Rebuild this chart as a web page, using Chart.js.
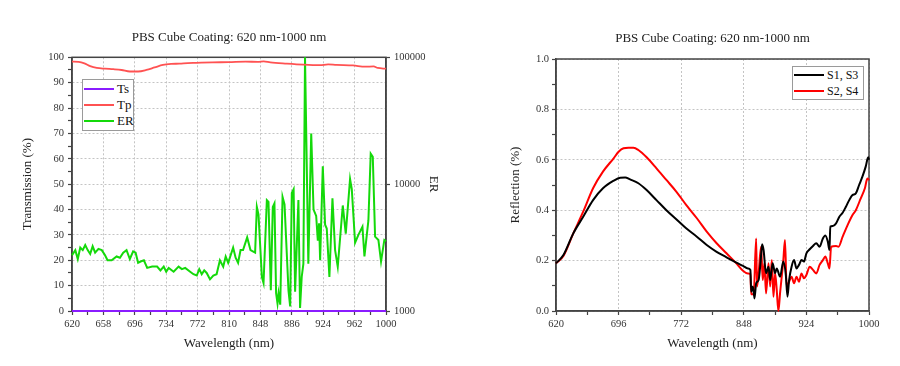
<!DOCTYPE html>
<html>
<head>
<meta charset="utf-8">
<script src="https://cdn.jsdelivr.net/npm/chart.js@4/dist/chart.umd.min.js"></script>
<style>
  html, body { margin:0; padding:0; background:#fff; }
  body { width:900px; height:366px; position:relative; overflow:hidden; font-family:"Liberation Serif","Times New Roman",serif; }
  .wrap { position:absolute; top:0; width:450px; height:366px; }
  .legend { position:absolute; background:#fff; border:1px solid #9a9a9a; box-sizing:border-box; color:#111; }
  .legend .row { position:absolute; left:0; height:16px; line-height:16px; white-space:nowrap; }
  .legend .sw { position:absolute; left:1px; top:7px; width:30px; height:2px; }
  .legend .lb { position:absolute; left:34px; top:0; color:#111; }
</style>
</head>
<body>
<div class="wrap" style="left:0"><canvas id="c1" width="450" height="366"></canvas></div>
<div class="wrap" style="left:450px"><canvas id="c2" width="450" height="366"></canvas></div>
<div id="lg1" class="legend" style="left:82px;top:79px;width:52px;height:52px;font-size:13px"></div>
<div id="lg2" class="legend" style="left:792px;top:66px;width:72px;height:34px;font-size:12px"></div>
<script>
// ---------------- DATA ----------------
const chartTitle = 'PBS Cube Coating: 620 nm-1000 nm';

// Left chart
const leftXTicks = [620, 658, 696, 734, 772, 810, 848, 886, 924, 962, 1000];
const leftYTicks = [0, 10, 20, 30, 40, 50, 60, 70, 80, 90, 100];
const erTicks = [1000, 10000, 100000];

const tsWl = [620, 700, 800, 900, 1000];
const tsVal = [0, 0, 0, 0, 0];

const tpWl = [620, 628, 635, 642, 650, 660, 670, 680, 690, 700, 710, 720, 730, 740, 750, 760, 770, 790, 810, 830, 845, 852, 860, 880, 900, 920, 930, 940, 960, 975, 985, 990, 1000];
const tpVal = [98.3, 98.2, 97.6, 96.5, 95.8, 95.5, 95.3, 95.0, 94.4, 94.4, 95.0, 96.0, 97.0, 97.4, 97.5, 97.7, 97.8, 98.0, 98.1, 98.3, 98.2, 98.4, 98.0, 97.5, 97.1, 96.9, 97.2, 97.0, 96.8, 96.3, 96.4, 95.8, 95.5];

const erWl = [620, 624, 627, 630, 633, 636, 639, 642, 645, 648, 652, 656, 660, 663, 668, 674, 678, 682, 686, 690, 694, 697, 700, 703, 707, 711, 717, 723, 727, 731, 734, 737, 743, 749, 753, 757, 763, 767, 771, 774, 777, 780, 783, 787, 791, 795, 799, 803, 806, 809, 815, 818, 821, 824, 827, 832, 836, 841.6, 843.7, 845.7, 849.8, 851.8, 855.8, 857.8, 860.6, 863, 865, 867, 868.7, 870, 872, 874.8, 877.2, 882, 884, 886, 888.2, 890, 894, 896, 898, 900, 902, 906, 909.5, 912.3, 915.5, 917.5, 919, 920.3, 923.5, 926.3, 928.3, 931.5, 935.2, 938.4, 941.6, 947.7, 951.3, 956.5, 958.6, 962.6, 966.6, 971.5, 973.9, 978.7, 981.5, 984, 986.8, 990.8, 994, 998, 1000];
const erVal = [2754, 3020, 2570, 3162, 3020, 3311, 3020, 2818, 3236, 2884, 3090, 3020, 2754, 2512, 2512, 2692, 2630, 2884, 3020, 2570, 2951, 2884, 2399, 2455, 2512, 2188, 2239, 2239, 2089, 2239, 2042, 2188, 2042, 2239, 2138, 2188, 2042, 1950, 1905, 2138, 1950, 2089, 1995, 1778, 1905, 1950, 2512, 2239, 2692, 2399, 3162, 2630, 2399, 3020, 3020, 3802, 3020, 2884, 6607, 5754, 1854, 1660, 7482, 7244, 1459, 6607, 7047, 1380, 1148, 1380, 1122, 7943, 6918, 1445, 1086, 8511, 9120, 1419, 7482, 1057, 1854, 2355, 100000, 2355, 25119, 6310, 5623, 3581, 4920, 2512, 13804, 4786, 4467, 1854, 7727, 3020, 2239, 6792, 4074, 10965, 9120, 3451, 3981, 4613, 2692, 5176, 17378, 16444, 3855, 3631, 2455, 3631, 3548];

// Right chart
const rightXTicks = [620, 696, 772, 848, 924, 1000];
const rightYTicks = [0.0, 0.2, 0.4, 0.6, 0.8, 1.0];

const s13Wl = [620, 629, 641, 653, 665, 677, 690, 698, 704, 710, 720, 730, 742, 754, 766, 778, 791, 803, 815, 827, 839, 847, 853, 856, 857, 859, 861, 863, 866, 868.5, 870.2, 872, 875, 878, 880, 883, 886, 888, 892, 896, 899, 901, 903, 906, 909, 912, 915, 918, 921, 924, 928, 932, 936, 940, 944, 947, 950, 952, 953, 956, 960, 964, 968, 972, 976, 980, 984, 988, 992, 996, 999, 1000];
const s13Val = [0.189, 0.222, 0.308, 0.374, 0.440, 0.487, 0.517, 0.529, 0.530, 0.522, 0.507, 0.480, 0.440, 0.400, 0.364, 0.328, 0.295, 0.262, 0.235, 0.213, 0.192, 0.179, 0.169, 0.163, 0.077, 0.097, 0.050, 0.110, 0.123, 0.200, 0.265, 0.242, 0.150, 0.176, 0.123, 0.189, 0.150, 0.169, 0.136, 0.196, 0.143, 0.057, 0.123, 0.176, 0.202, 0.169, 0.183, 0.202, 0.196, 0.229, 0.245, 0.258, 0.269, 0.255, 0.288, 0.300, 0.275, 0.242, 0.335, 0.337, 0.348, 0.374, 0.390, 0.414, 0.440, 0.460, 0.467, 0.500, 0.533, 0.573, 0.610, 0.600];

const s24Wl = [620, 629, 641, 653, 665, 677, 690, 696, 702, 708, 714, 720, 730, 742, 754, 766, 778, 791, 803, 815, 827, 839, 847, 853, 856, 857, 860, 863, 864, 866, 869, 871, 873, 875, 878, 880, 882, 884, 886, 888, 890, 892, 896, 898, 900, 903, 906, 909, 912, 915, 918, 921, 924, 928, 932, 936, 940, 944, 947, 950, 952, 954, 960, 963, 968, 974, 980, 984, 990, 995, 998, 1000];
const s24Val = [0.189, 0.218, 0.308, 0.394, 0.487, 0.553, 0.606, 0.632, 0.646, 0.648, 0.648, 0.639, 0.610, 0.566, 0.520, 0.474, 0.421, 0.368, 0.315, 0.269, 0.229, 0.189, 0.160, 0.149, 0.147, 0.066, 0.066, 0.288, 0.097, 0.150, 0.255, 0.123, 0.189, 0.070, 0.189, 0.097, 0.202, 0.057, 0.150, 0.083, 0.000, 0.070, 0.202, 0.282, 0.097, 0.116, 0.136, 0.110, 0.136, 0.116, 0.149, 0.130, 0.143, 0.176, 0.163, 0.149, 0.183, 0.202, 0.216, 0.189, 0.169, 0.255, 0.258, 0.255, 0.295, 0.341, 0.381, 0.400, 0.447, 0.487, 0.526, 0.520];

// ---------------- HELPERS ----------------
const FONT = '"Liberation Serif", "Times New Roman", serif';
const pts = (xs, ys) => xs.map((x, i) => ({ x: x, y: ys[i] }));
function withMinor(major) {
  const out = [];
  for (let i = 0; i < major.length; i++) {
    out.push(major[i]);
    if (i < major.length - 1) out.push(+((major[i] + major[i + 1]) / 2).toFixed(6));
  }
  return out;
}
const isMajor = (arr, v) => arr.some(m => Math.abs(m - v) < 1e-6);
const gridColor = (arr) => (ctx) => (ctx.tick && isMajor(arr, ctx.tick.value)) ? '#c4c4c4' : 'rgba(0,0,0,0)';

const framePlugin = {
  id: 'frame',
  beforeDatasetsDraw(chart) {
    const a = chart.chartArea, c = chart.ctx;
    c.save();
    c.strokeStyle = '#444';
    c.lineWidth = 1.5;
    c.strokeRect(a.left, a.top, a.right - a.left, a.bottom - a.top);
    c.restore();
  }
};

function xScale(ticksArr) {
  return {
    type: 'linear', min: 620, max: 1000,
    afterBuildTicks: s => { s.ticks = withMinor(ticksArr).map(v => ({ value: v })); },
    afterFit: s => { s.height = 55; },
    ticks: { autoSkip: false, maxRotation: 0, padding: 3, color: '#333', font: { family: FONT, size: 10.5 },
      callback: v => isMajor(ticksArr, v) ? String(v) : '' },
    grid: { color: gridColor(ticksArr), lineWidth: 1, tickLength: 4, tickColor: '#444', tickWidth: 1.2 },
    border: { color: '#444', width: 1.5, dash: [2, 2] },
    title: { display: true, text: 'Wavelength (nm)', color: '#222', font: { family: FONT, size: 13 }, padding: { top: 0, bottom: 15 } }
  };
}

// ---------------- LEFT CHART ----------------
const c1 = new Chart(document.getElementById('c1'), {
  type: 'line',
  data: {
    datasets: [
      { label: 'Ts', data: pts(tsWl, tsVal), borderColor: '#8a1cff', borderWidth: 2, pointRadius: 0, yAxisID: 'y', clip: 4 },
      { label: 'Tp', data: pts(tpWl, tpVal), borderColor: '#ff5252', borderWidth: 1.8, pointRadius: 0, yAxisID: 'y', clip: 4, cubicInterpolationMode: 'monotone' },
      { label: 'ER', data: pts(erWl, erVal), borderColor: '#14d90a', borderWidth: 2, pointRadius: 0, yAxisID: 'y2', clip: 4 }
    ]
  },
  options: {
    responsive: false, animation: false, devicePixelRatio: 1,
    layout: { padding: 0 },
    plugins: {
      legend: { display: false }, tooltip: { enabled: false },
      title: { display: true, text: chartTitle, fullSize: false, color: '#222', font: { family: FONT, size: 13, weight: 'normal' }, padding: { top: 29.3, bottom: 12.4 } }
    },
    scales: {
      x: xScale(leftXTicks),
      y: {
        type: 'linear', position: 'left', min: 0, max: 100,
        afterBuildTicks: s => { s.ticks = withMinor(leftYTicks).map(v => ({ value: v })); },
        afterFit: s => { s.width = 72; },
        ticks: { autoSkip: false, padding: 4, color: '#333', font: { family: FONT, size: 10.5 },
          callback: v => isMajor(leftYTicks, v) ? String(v) : '' },
        grid: { color: gridColor(leftYTicks), lineWidth: 1, tickLength: 4, tickColor: '#444', tickWidth: 1.2 },
        border: { color: '#444', width: 1.5, dash: [2, 2] },
        title: { display: true, text: 'Transmission (%)', color: '#222', font: { family: FONT, size: 13 }, padding: { top: 20, bottom: 0 } }
      },
      y2: {
        type: 'logarithmic', position: 'right', min: 1000, max: 100000,
        afterBuildTicks: s => { s.ticks = erTicks.map(v => ({ value: v })); },
        afterFit: s => { s.width = 64; },
        ticks: { autoSkip: false, padding: 4, color: '#333', font: { family: FONT, size: 10.5 }, callback: v => String(v) },
        grid: { drawOnChartArea: false, tickLength: 4, tickColor: '#444', tickWidth: 1.2 },
        border: { color: '#444', width: 1.5 },
        title: { display: true, text: 'ER', color: '#222', font: { family: FONT, size: 13 }, padding: { top: 9, bottom: 0 } }
      }
    }
  },
  plugins: [framePlugin]
});

// ---------------- RIGHT CHART ----------------
const c2 = new Chart(document.getElementById('c2'), {
  type: 'line',
  data: {
    datasets: [
      { label: 'S1, S3', data: pts(s13Wl, s13Val), borderColor: '#000000', borderWidth: 2, pointRadius: 0, clip: 4, cubicInterpolationMode: 'monotone' },
      { label: 'S2, S4', data: pts(s24Wl, s24Val), borderColor: '#ff0000', borderWidth: 2, pointRadius: 0, clip: 4, cubicInterpolationMode: 'monotone' }
    ]
  },
  options: {
    responsive: false, animation: false, devicePixelRatio: 1,
    layout: { padding: { left: 0, right: 31, top: 0, bottom: 0 } },
    plugins: {
      legend: { display: false }, tooltip: { enabled: false },
      title: { display: true, text: chartTitle, fullSize: false, color: '#222', font: { family: FONT, size: 13, weight: 'normal' }, padding: { top: 31, bottom: 12.4 } }
    },
    scales: {
      x: xScale(rightXTicks),
      y: {
        type: 'linear', position: 'left', min: 0, max: 1,
        afterBuildTicks: s => { s.ticks = withMinor(rightYTicks).map(v => ({ value: v })); },
        afterFit: s => { s.width = 106; },
        ticks: { autoSkip: false, padding: 3, color: '#333', font: { family: FONT, size: 10.5 },
          callback: v => isMajor(rightYTicks, v) ? v.toFixed(1) : '' },
        grid: { color: gridColor(rightYTicks), lineWidth: 1, tickLength: 4, tickColor: '#444', tickWidth: 1.2 },
        border: { color: '#444', width: 1.5, dash: [2, 2] },
        title: { display: true, text: 'Reflection (%)', color: '#222', font: { family: FONT, size: 13 }, padding: { top: 58, bottom: 0 } }
      }
    }
  },
  plugins: [framePlugin]
});

// ---------------- HTML LEGENDS ----------------
function buildLegend(el, chart, top0) {
  chart.data.datasets.forEach((ds, i) => {
    const row = document.createElement('div');
    row.className = 'row';
    row.style.top = (top0 + i * 16) + 'px';
    const sw = document.createElement('div');
    sw.className = 'sw';
    sw.style.background = ds.borderColor;
    const lb = document.createElement('span');
    lb.className = 'lb';
    lb.textContent = ds.label;
    row.appendChild(sw); row.appendChild(lb);
    el.appendChild(row);
  });
}
buildLegend(document.getElementById('lg1'), c1, 1);
buildLegend(document.getElementById('lg2'), c2, 0);
</script>
</body>
</html>
